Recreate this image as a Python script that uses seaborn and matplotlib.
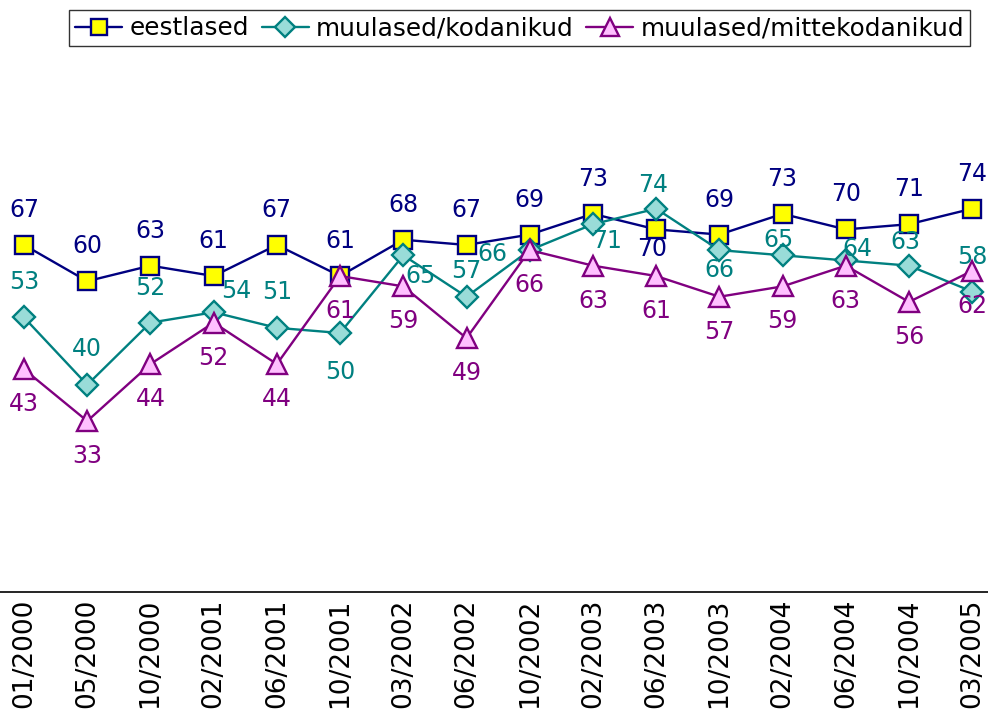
import matplotlib
matplotlib.use("Agg")
import matplotlib.pyplot as plt
import seaborn as sns
import pandas as pd

categories = ["01/2000", "05/2000", "10/2000", "02/2001", "06/2001", "10/2001",
              "03/2002", "06/2002", "10/2002", "02/2003", "06/2003", "10/2003",
              "02/2004", "06/2004", "10/2004", "03/2005"]
eestlased = [67, 60, 63, 61, 67, 61, 68, 67, 69, 73, 70, 69, 73, 70, 71, 74]
kodanikud = [53, 40, 52, 54, 51, 50, 65, 57, 66, 71, 74, 66, 65, 64, 63, 58]
mittekodanikud = [43, 33, 44, 52, 44, 61, 59, 49, 66, 63, 61, 57, 59, 63, 56, 62]
series_names = ["eestlased", "muulased/kodanikud", "muulased/mittekodanikud"]

# label offsets in pixels (dx, dy up)
off_e = [(0, 35)] * 16
off_e[10] = (-4, -20)
off_k = [(0, 35), (0, 36), (0, 35), (23, 21), (0, 36), (0, -39), (17, -21), (0, 26),
         (-37, -4), (14, -17), (-3, 24), (0, -20), (-4, 15), (12, 11), (-4, 24), (0, 35)]
off_m = [(0, -35)] * 16

styles = [
    dict(color="#000080", marker="s", mfc="#ffff00", mec="#000080", ms=13, txt="#000080"),
    dict(color="#008080", marker="D", mfc="#99dcd8", mec="#008080", ms=11, txt="#008080"),
    dict(color="#800080", marker="^", mfc="#ffc0ff", mec="#800080", ms=14, txt="#800080"),
]

df = pd.DataFrame({"x": list(range(len(categories))) * 3,
                   "value": eestlased + kodanikud + mittekodanikud,
                   "series": sum([[n] * len(categories) for n in series_names], [])})

sns.set_style("white")
plt.rcParams['font.family'] = ['DejaVu Sans']
plt.rcParams['text.color'] = 'black'
plt.rcParams['xtick.color'] = 'black'

fig = plt.figure(figsize=(9.88, 7.19), dpi=100)
ax = fig.add_axes([0, 127 / 719, 1, (592 - 74) / 719])

offsets = [off_e, off_k, off_m]
for name, st, offs in zip(series_names, styles, offsets):
    sub = df[df.series == name]
    sns.lineplot(data=sub, x="x", y="value", ax=ax, color=st["color"], lw=1.7,
                 marker=st["marker"], markerfacecolor=st["mfc"], markeredgecolor=st["mec"],
                 markeredgewidth=1.7, markersize=st["ms"], label=name, legend=False)
    for xi, v, (dx, dy) in zip(sub.x, sub.value, offs):
        ax.annotate(str(v), (xi, v), xytext=(dx * 0.72, dy * 0.72), textcoords="offset points",
                    ha="center", va="center", fontsize=17, color=st["txt"])

ax.set_xlim(-0.38, 15.25)
ax.set_ylim(0, 100)
ax.set_xticks(range(len(categories)))
ax.set_xticklabels(categories, rotation=90, fontsize=19, color="black")
ax.tick_params(axis="x", length=0, pad=5)
ax.set_yticks([])
ax.set_xlabel("")
ax.set_ylabel("")
for s in ["top", "left", "right"]:
    ax.spines[s].set_visible(False)
ax.spines["bottom"].set_color("black")
ax.spines["bottom"].set_linewidth(1.2)

h, l = ax.get_legend_handles_labels()
leg = fig.legend(h, l, loc="upper center", bbox_to_anchor=(0.526, 0.986), ncol=3,
                 fontsize=17.8, frameon=True, fancybox=False, edgecolor="black",
                 handlelength=1.9, handletextpad=0.3, columnspacing=0.5, borderpad=0.25,
                 borderaxespad=0, markerscale=0.9)
leg.get_frame().set_linewidth(1.0)
for t in leg.get_texts():
    t.set_color("black")

fig.savefig("out.png", dpi=100)
